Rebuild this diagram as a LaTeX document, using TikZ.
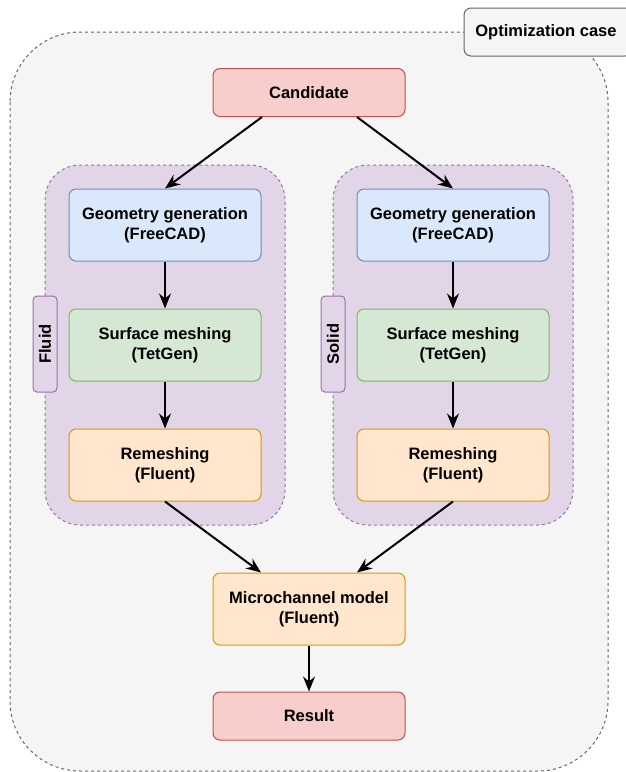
\documentclass[tikz,border=0pt]{standalone}
\usepackage{fontspec}
\setmainfont{Liberation Sans}
\usetikzlibrary{arrows.meta}

\definecolor{outerfill}{HTML}{F5F5F5}
\definecolor{outerline}{HTML}{666666}
\definecolor{redfill}{HTML}{F8CECC}
\definecolor{redline}{HTML}{B85450}
\definecolor{bluefill}{HTML}{DAE8FC}
\definecolor{blueline}{HTML}{6C8EBF}
\definecolor{greenfill}{HTML}{D5E8D4}
\definecolor{greenline}{HTML}{82B366}
\definecolor{orangefill}{HTML}{FFE6CC}
\definecolor{orangeline}{HTML}{D79B00}
\definecolor{purplefill}{HTML}{E1D5E7}
\definecolor{purpleline}{HTML}{9673A6}

\begin{document}
\begin{tikzpicture}[x=1pt, y=-1pt,
    font=\fontsize{16.5}{19.5}\selectfont\bfseries,
    box/.style={draw, line width=1pt, rounded corners=7pt, align=center,
        minimum width=192pt, minimum height=72pt, inner sep=0pt},
    redbox/.style={box, fill=redfill, draw=redline, minimum height=48pt},
    bluebox/.style={box, fill=bluefill, draw=blueline},
    greenbox/.style={box, fill=greenfill, draw=greenline},
    orangebox/.style={box, fill=orangefill, draw=orangeline},
    groupbox/.style={draw=purpleline, fill=purplefill, line width=1pt,
        dash pattern=on 3pt off 3pt, rounded corners=35pt,
        minimum width=240pt, minimum height=360pt, inner sep=0pt},
    tagbox/.style={draw=purpleline, fill=purplefill, line width=1pt,
        rounded corners=4pt, minimum width=96pt, minimum height=24pt,
        inner sep=0pt, rotate=90},
    flow/.style={-{Stealth[length=15pt, width=12pt, inset=5pt]}, line width=2pt}
]

    % page size
    \useasboundingbox (0,0) rectangle (626,772);

    % Outer dashed container
    \draw[fill=outerfill, draw=outerline, line width=1pt,
        dash pattern=on 3pt off 3pt, rounded corners=70pt] (10,32) rectangle (608,771);

    % "Optimization case" label at the top right
    \node[draw=outerline, fill=outerfill, line width=1pt, rounded corners=7pt,
        minimum width=168pt, minimum height=48pt, inner sep=0pt] (optcase) at (548,32)
        {\hspace*{-4pt}Optimization case};

    % Fluid and solid groups
    \node[groupbox] (fluidgrp) at (165,345) {};
    \node[groupbox] (solidgrp) at (453,345) {};
    \node[tagbox] (fluidtag) at (45,344) {Fluid};
    \node[tagbox] (solidtag) at (333,344) {Solid};

    % Candidate
    \node[redbox] (cand) at (309,92.5) {Candidate};

    % Fluid chain
    \node[bluebox] (geoF) at (165,225) {Geometry generation\\(FreeCAD)};
    \node[greenbox] (meshF) at (165,345) {Surface meshing\\(TetGen)};
    \node[orangebox] (remF) at (165,465) {Remeshing\\(Fluent)};

    % Solid chain
    \node[bluebox] (geoS) at (453,225) {Geometry generation\\(FreeCAD)};
    \node[greenbox] (meshS) at (453,345) {Surface meshing\\(TetGen)};
    \node[orangebox] (remS) at (453,465) {Remeshing\\(Fluent)};

    % Model and result
    \node[orangebox] (model) at (309,609) {Microchannel model\\(Fluent)};
    \node[redbox] (result) at (309,716) {Result};

    % Arrows
    \draw[flow] ([xshift=-47pt]cand.south) -- (geoF.north);
    \draw[flow] ([xshift=48pt]cand.south) -- (geoS.north);
    \draw[flow] (geoF) -- (meshF);
    \draw[flow] (meshF) -- (remF);
    \draw[flow] (geoS) -- (meshS);
    \draw[flow] (meshS) -- (remS);
    \draw[flow] (remF.south) -- ([xshift=-48pt]model.north);
    \draw[flow] (remS.south) -- ([xshift=48pt]model.north);
    \draw[flow] (model) -- (result);

\end{tikzpicture}
\end{document}
